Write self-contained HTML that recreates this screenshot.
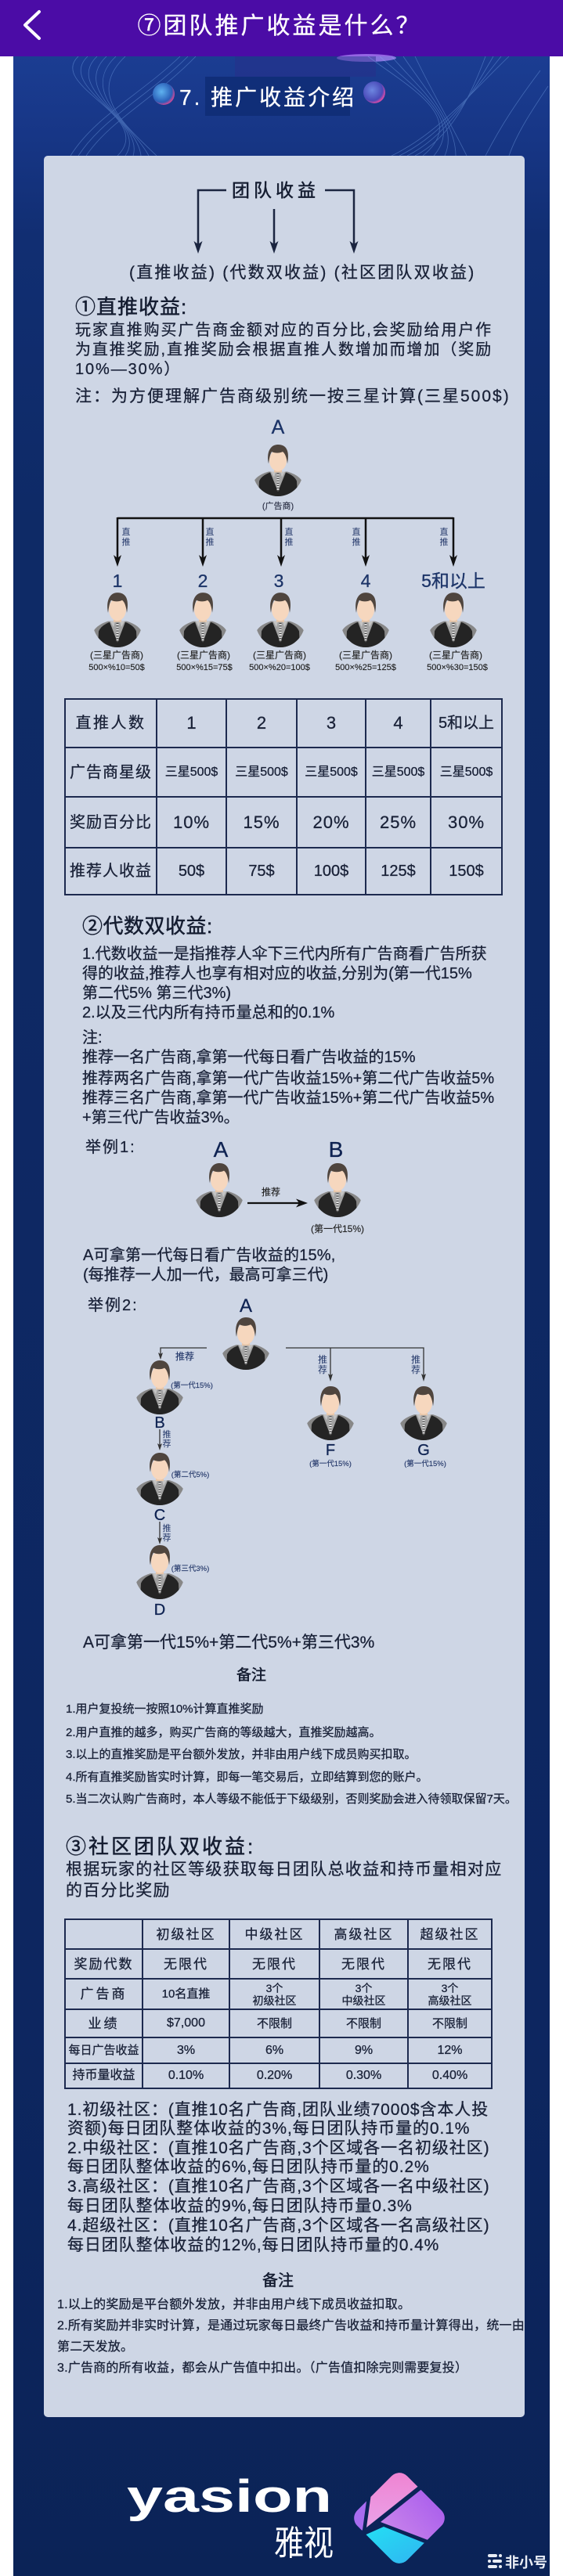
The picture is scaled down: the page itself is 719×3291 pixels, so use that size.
<!DOCTYPE html>
<html><head><meta charset="utf-8">
<style>
html,body{margin:0;padding:0;background:#fff;}
#w{position:relative;width:719px;height:3291px;overflow:hidden;background:#fff;font-family:"Liberation Sans","Noto Sans CJK SC",sans-serif;}
.t{position:absolute;white-space:nowrap;line-height:1;color:#1a2238;-webkit-text-stroke:0.3px currentColor;}
.sm{-webkit-text-stroke:0.15px currentColor;}
.h{color:#141c30;-webkit-text-stroke:0.5px currentColor;}
.c{transform:translateX(-50%);}
.n{color:#1c3468;}
.v{position:absolute;line-height:13px;font-size:11px;color:#24386a;text-align:center;transform:translateX(-50%);}
table.tb{position:absolute;border-collapse:collapse;table-layout:fixed;}
table.tb td{border:2px solid #1d2a4f;text-align:center;vertical-align:middle;padding:0;color:#1a2238;line-height:1;white-space:nowrap;-webkit-text-stroke:0.3px currentColor;}
</style></head><body><div id="w">

<!-- backgrounds -->
<div style="position:absolute;left:0;top:0;width:719px;height:72px;background:#4b0ca6"></div>
<div style="position:absolute;left:17px;top:72px;width:685px;height:3219px;background:linear-gradient(180deg,#1b3d92 0px,#173686 100px,#112e72 230px,#0e2a66 600px,#0d2660 2500px,#0b2357 3219px)"></div>

<svg style="position:absolute;left:0;top:0" width="719" height="3291" viewBox="0 0 719 3291">
<defs>
 <clipPath id="bc"><circle cx="32" cy="34" r="32"/></clipPath>
 <symbol id="av" viewBox="0 0 64 66" preserveAspectRatio="none">
  <g clip-path="url(#bc)">
   <path d="M0,66 L0,50 Q3,40 20,35 L44,35 Q61,40 64,50 L64,66 Z" fill="#878787"/>
   <path d="M7,66 L8,47 Q11,40 22,36 L32,60 L42,36 Q53,40 56,47 L57,66 Z" fill="#242424"/>
   <path d="M22,35 L42,35 L32,60 Z" fill="#a3a3a3"/>
   <path d="M23,35 L29,35 L27,42 Z M41,35 L35,35 L37,42 Z" fill="#c4c4c4"/>
   <rect x="30.5" y="37" width="3" height="22" fill="#e2e2e2"/>
   <line x1="32" y1="37" x2="32" y2="59" stroke="#444" stroke-width="3" stroke-dasharray="1.2 1.8"/>
  </g>
  <rect x="27" y="28" width="10" height="8" fill="#e7c6a9"/>
  <ellipse cx="32" cy="21" rx="11" ry="13.5" fill="#f6d7be"/>
  <path d="M20,25 C17,11 22,1 32,1 C43,1 47,9 44,25 C43,17 41,12 38,10 C34,12 28,12 24,10 C22,13 21,18 20,25 Z" fill="#4f453e"/>
 </symbol>
 <radialGradient id="sp1" cx="0.4" cy="0.4" r="0.6"><stop offset="0" stop-color="#5fb2f0"/><stop offset="0.8" stop-color="#2a5fb8"/><stop offset="1" stop-color="#c04a9a"/></radialGradient>
 <radialGradient id="sp2" cx="0.4" cy="0.4" r="0.6"><stop offset="0" stop-color="#6d86e0"/><stop offset="0.8" stop-color="#4a4ab8"/><stop offset="1" stop-color="#d04aa8"/></radialGradient>
 <linearGradient id="gp" x1="0" y1="0" x2="0" y2="1"><stop offset="0" stop-color="#f56ac0"/><stop offset="1" stop-color="#e9a2e8"/></linearGradient>
 <linearGradient id="gu" x1="1" y1="0" x2="0" y2="1"><stop offset="0" stop-color="#8432ee"/><stop offset="1" stop-color="#d592ea"/></linearGradient>
 <linearGradient id="gc" x1="0" y1="0" x2="1" y2="1"><stop offset="0" stop-color="#22e6f4"/><stop offset="1" stop-color="#3d86ee"/></linearGradient>
 <clipPath id="dm"><rect x="465" y="3172" width="90" height="90" rx="14" transform="rotate(45 510 3217)"/></clipPath>
</defs>

<!-- header chevron -->
<polyline points="50,15 32,32 50,49" fill="none" stroke="#fff" stroke-width="4" stroke-linecap="round" stroke-linejoin="round"/>

<!-- banner decoration -->
<ellipse cx="468" cy="74" rx="38" ry="5" fill="#b58cff" opacity="0.7"/>
<rect x="300" y="72" width="180" height="26" fill="#2b2d8a" opacity="0.45"/>
<rect x="262" y="98" width="185" height="50" fill="#0e2b72" opacity="0.75"/>
<g fill="none" stroke="#8fc0ff" stroke-width="0.8" opacity="0.35">
 <path d="M100,72 C60,110 200,150 150,199"/>
 <path d="M112,72 C70,112 192,152 160,199"/>
 <path d="M124,72 C80,114 184,154 170,199"/>
 <path d="M136,72 C90,116 176,156 180,199"/>
 <path d="M148,72 C100,118 168,158 190,199"/>
 <path d="M160,72 C110,120 160,160 200,199"/>
 <path d="M230,72 C180,120 120,150 90,199"/>
 <path d="M240,72 C190,122 130,152 100,199"/>
 <path d="M250,72 C200,124 140,154 110,199"/>
 <path d="M470,72 C520,110 600,150 540,199"/>
 <path d="M485,72 C528,112 594,152 554,199"/>
 <path d="M500,72 C536,114 588,154 568,199"/>
 <path d="M515,72 C544,116 582,156 582,199"/>
 <path d="M530,72 C552,118 576,158 596,199"/>
 <path d="M650,72 C600,120 560,170 500,199"/>
 <path d="M640,72 C600,122 565,172 510,199"/>
 <path d="M630,72 C600,124 570,174 520,199"/>
 <path d="M620,72 C600,126 575,176 530,199"/>
 <path d="M690,90 C660,130 640,160 620,199"/>
 <path d="M700,110 C680,140 660,170 650,199"/>
</g>
<circle cx="209" cy="120" r="14" fill="url(#sp1)"/>
<circle cx="478" cy="118" r="14" fill="url(#sp2)"/>

<!-- panel -->
<rect x="56" y="199" width="614" height="2889" rx="5" fill="#ced6e5"/>

<!-- intro bracket -->
<g stroke="#1b2540" stroke-width="2.5" fill="none">
 <path d="M289,243 H253 V312"/>
 <path d="M350,267 V312"/>
 <path d="M415,243 H452 V312"/>
</g>
<g fill="#1b2540">
 <polygon points="253,324 247.5,308 253,312 258.5,308"/>
 <polygon points="350,324 344.5,308 350,312 355.5,308"/>
 <polygon points="452,324 446.5,308 452,312 457.5,308"/>
</g>

<!-- tree 1 -->
<g stroke="#111" stroke-width="2.5" fill="none">
 <path d="M150,662 H579"/>
 <path d="M150,661 V713 M259,662 V713 M359,662 V713 M467,662 V713 M579,661 V713"/>
</g>
<g fill="#111">
 <polygon points="150,724 145,709 150,713 155,709"/>
 <polygon points="259,724 254,709 259,713 264,709"/>
 <polygon points="359,724 354,709 359,713 364,709"/>
 <polygon points="467,724 462,709 467,713 472,709"/>
 <polygon points="579,724 574,709 579,713 584,709"/>
</g>
<use href="#av" x="323" y="567" width="64" height="67"/>
<use href="#av" x="118" y="756" width="64" height="71"/>
<use href="#av" x="227" y="756" width="64" height="71"/>
<use href="#av" x="326" y="756" width="64" height="71"/>
<use href="#av" x="435" y="756" width="64" height="71"/>
<use href="#av" x="547" y="756" width="64" height="71"/>

<!-- example 1 -->
<use href="#av" x="248" y="1485" width="64" height="70"/>
<use href="#av" x="399" y="1485" width="64" height="70"/>
<path d="M316,1537 H382" stroke="#111" stroke-width="2.2"/>
<polygon points="393,1537 378,1531.5 382,1537 378,1542.5" fill="#111"/>

<!-- example 2 -->
<g stroke="#333" stroke-width="1.3" fill="none">
 <path d="M264,1722 H205 V1730"/>
 <path d="M365,1722 H541 V1757"/>
 <path d="M422,1722 V1757"/>
 <path d="M204,1826 V1846"/>
 <path d="M204,1944 V1966"/>
</g>
<g fill="#333">
 <polygon points="205,1737 202,1728 205,1730 208,1728"/>
 <polygon points="422,1765 419,1755 422,1757 425,1755"/>
 <polygon points="541,1765 538,1755 541,1757 544,1755"/>
 <polygon points="204,1853 201,1844 204,1846 207,1844"/>
 <polygon points="204,1973 201,1964 204,1966 207,1964"/>
</g>
<use href="#av" x="282" y="1682" width="64" height="68"/>
<use href="#av" x="172" y="1737" width="64" height="70"/>
<use href="#av" x="172" y="1855" width="64" height="68"/>
<use href="#av" x="172" y="1973" width="64" height="70"/>
<use href="#av" x="390" y="1770" width="64" height="70"/>
<use href="#av" x="509" y="1770" width="64" height="70"/>

<!-- logo -->
<g clip-path="url(#dm)">
 <polygon points="474,3186 474,3100 620,3100 620,3108 468,3229" fill="url(#gp)"/>
 <polygon points="400,3150 469,3188 463,3232 400,3300" fill="#a86cf0"/>
 <polygon points="620,3115 486,3222 620,3273" fill="url(#gu)"/>
 <polygon points="440,3245 463,3240 490,3228 620,3280 620,3330 440,3330" fill="url(#gc)"/>
</g>
<text x="162" y="3209" font-family="Liberation Sans, sans-serif" font-weight="bold" font-size="58" fill="#fff" textLength="262" lengthAdjust="spacingAndGlyphs">yasion</text>
<text x="350" y="3264" font-family="Liberation Sans, Noto Sans CJK SC, sans-serif" font-size="44" fill="#fff" textLength="76" lengthAdjust="spacingAndGlyphs">雅视</text>
<g fill="#e8ecf4">
 <rect x="623" y="3263" width="12" height="4" rx="2"/><rect x="637" y="3263" width="4" height="4" rx="2"/>
 <rect x="623" y="3270" width="4" height="4" rx="2"/><rect x="629" y="3270" width="12" height="4" rx="2"/>
 <rect x="623" y="3277" width="12" height="4" rx="2"/><rect x="637" y="3277" width="4" height="4" rx="2"/>
</g>
<text x="645" y="3280" font-family="Liberation Sans, Noto Sans CJK SC, sans-serif" font-weight="bold" font-size="18" fill="#e8ecf4">非小号</text>
</svg>

<!-- header title -->
<div class="t c" style="left:357px;top:19px;font-size:30px;letter-spacing:3px;color:#fff">⑦团队推广收益是什么？</div>
<div class="t" style="left:229px;top:111px;font-size:28px;letter-spacing:3px;color:#fff">7. 推广收益介绍</div>

<!-- intro -->
<div class="t h" style="left:296px;top:232px;font-size:23px;letter-spacing:5px">团队收益</div>
<div class="t" style="left:165px;top:338px;font-size:21px;letter-spacing:2.2px">(直推收益) (代数双收益) (社区团队双收益)</div>

<!-- section 1 -->
<div class="t h" style="left:96px;top:379px;font-size:26px;letter-spacing:1px">①直推收益:</div>
<div class="t" style="left:96px;top:412px;font-size:20px;letter-spacing:1.9px">玩家直推购买广告商金额对应的百分比,会奖励给用户作</div>
<div class="t" style="left:96px;top:437px;font-size:20px;letter-spacing:1.9px">为直推奖励,直推奖励会根据直推人数增加而增加（奖励</div>
<div class="t" style="left:96px;top:462px;font-size:20px;letter-spacing:1.9px">10%—30%）</div>
<div class="t" style="left:96px;top:496px;font-size:21px;letter-spacing:2px">注：为方便理解广告商级别统一按三星计算(三星500$)</div>

<div class="t c n" style="left:355px;top:534px;font-size:25px">A</div>
<div class="t c sm" style="left:355px;top:642px;font-size:11px;color:#2a2f45">(广告商)</div>
<div class="v" style="left:161px;top:674px">直<br>推</div>
<div class="v" style="left:268px;top:674px">直<br>推</div>
<div class="v" style="left:369px;top:674px">直<br>推</div>
<div class="v" style="left:455px;top:674px">直<br>推</div>
<div class="v" style="left:567px;top:674px">直<br>推</div>
<div class="t c n" style="left:150px;top:731px;font-size:23px">1</div>
<div class="t c n" style="left:259px;top:731px;font-size:23px">2</div>
<div class="t c n" style="left:356px;top:731px;font-size:23px">3</div>
<div class="t c n" style="left:467px;top:731px;font-size:23px">4</div>
<div class="t c n" style="left:579px;top:731px;font-size:23px">5和以上</div>
<div class="t c sm" style="left:149px;top:831px;font-size:12px;color:#222">(三星广告商)</div>
<div class="t c sm" style="left:260px;top:831px;font-size:12px;color:#222">(三星广告商)</div>
<div class="t c sm" style="left:357px;top:831px;font-size:12px;color:#222">(三星广告商)</div>
<div class="t c sm" style="left:467px;top:831px;font-size:12px;color:#222">(三星广告商)</div>
<div class="t c sm" style="left:582px;top:831px;font-size:12px;color:#222">(三星广告商)</div>
<div class="t c sm" style="left:149px;top:848px;font-size:11px;color:#222">500×%10=50$</div>
<div class="t c sm" style="left:261px;top:848px;font-size:11px;color:#222">500×%15=75$</div>
<div class="t c sm" style="left:357px;top:848px;font-size:11px;color:#222">500×%20=100$</div>
<div class="t c sm" style="left:467px;top:848px;font-size:11px;color:#222">500×%25=125$</div>
<div class="t c sm" style="left:584px;top:848px;font-size:11px;color:#222">500×%30=150$</div>

<table class="tb" style="left:82px;top:892px;width:558px;height:252px">
<colgroup><col style="width:117px"><col style="width:89px"><col style="width:90px"><col style="width:88px"><col style="width:83px"><col style="width:91px"></colgroup>
<tr style="height:62px"><td style="font-size:20px;letter-spacing:2.5px">直推人数</td><td style="font-size:22px">1</td><td style="font-size:22px">2</td><td style="font-size:22px">3</td><td style="font-size:22px">4</td><td style="font-size:20px">5和以上</td></tr>
<tr style="height:63px"><td style="font-size:20px;letter-spacing:1px">广告商星级</td><td style="font-size:16px">三星500$</td><td style="font-size:16px">三星500$</td><td style="font-size:16px">三星500$</td><td style="font-size:16px">三星500$</td><td style="font-size:16px">三星500$</td></tr>
<tr style="height:65px"><td style="font-size:20px;letter-spacing:1px">奖励百分比</td><td style="font-size:22px;letter-spacing:1px">10%</td><td style="font-size:22px;letter-spacing:1px">15%</td><td style="font-size:22px;letter-spacing:1px">20%</td><td style="font-size:22px;letter-spacing:1px">25%</td><td style="font-size:22px;letter-spacing:1px">30%</td></tr>
<tr style="height:60px"><td style="font-size:20px;letter-spacing:1px">推荐人收益</td><td style="font-size:20px">50$</td><td style="font-size:20px">75$</td><td style="font-size:20px">100$</td><td style="font-size:20px">125$</td><td style="font-size:20px">150$</td></tr>
</table>

<!-- section 2 -->
<div class="t h" style="left:105px;top:1170px;font-size:26px;letter-spacing:0.5px">②代数双收益:</div>
<div class="t" style="left:105px;top:1209px;font-size:20px">1.代数收益一是指推荐人伞下三代内所有广告商看广告所获</div>
<div class="t" style="left:105px;top:1234px;font-size:20px">得的收益,推荐人也享有相对应的收益,分别为(第一代15%</div>
<div class="t" style="left:105px;top:1259px;font-size:20px">第二代5% 第三代3%)</div>
<div class="t" style="left:105px;top:1284px;font-size:20px">2.以及三代内所有持币量总和的0.1%</div>
<div class="t" style="left:105px;top:1316px;font-size:20px">注:</div>
<div class="t" style="left:105px;top:1341px;font-size:20px">推荐一名广告商,拿第一代每日看广告收益的15%</div>
<div class="t" style="left:105px;top:1368px;font-size:20px">推荐两名广告商,拿第一代广告收益15%+第二代广告收益5%</div>
<div class="t" style="left:105px;top:1393px;font-size:20px">推荐三名广告商,拿第一代广告收益15%+第二代广告收益5%</div>
<div class="t" style="left:105px;top:1418px;font-size:20px">+第三代广告收益3%。</div>

<div class="t" style="left:109px;top:1456px;font-size:20px;letter-spacing:2px">举例1:</div>
<div class="t c" style="left:282px;top:1455px;font-size:28px;color:#0f2352">A</div>
<div class="t c" style="left:429px;top:1455px;font-size:28px;color:#0f2352">B</div>
<div class="t c sm" style="left:346px;top:1517px;font-size:12px;color:#222">推荐</div>
<div class="t c sm" style="left:431px;top:1564px;font-size:12px;color:#222">(第一代15%)</div>
<div class="t" style="left:106px;top:1594px;font-size:20px;letter-spacing:0.2px">A可拿第一代每日看广告收益的15%,</div>
<div class="t" style="left:106px;top:1619px;font-size:20px">(每推荐一人加一代，最高可拿三代)</div>

<div class="t" style="left:112px;top:1658px;font-size:20px;letter-spacing:2px">举例2:</div>
<div class="t c" style="left:314px;top:1657px;font-size:24px;color:#0f2352">A</div>
<div class="t c sm" style="left:236px;top:1727px;font-size:12px;color:#24386a">推荐</div>
<div class="v" style="left:412px;top:1731px;font-size:12px;line-height:13px">推<br>荐</div>
<div class="v" style="left:531px;top:1731px;font-size:12px;line-height:13px">推<br>荐</div>
<div class="t c sm" style="left:245px;top:1766px;font-size:9.5px;color:#24386a">(第一代15%)</div>
<div class="t c" style="left:204px;top:1808px;font-size:20px;color:#0f2352">B</div>
<div class="v" style="left:213px;top:1827px;line-height:12px">推<br>荐</div>
<div class="t c sm" style="left:243px;top:1880px;font-size:9.5px;color:#24386a">(第二代5%)</div>
<div class="t c" style="left:204px;top:1926px;font-size:20px;color:#0f2352">C</div>
<div class="v" style="left:213px;top:1947px;line-height:12px">推<br>荐</div>
<div class="t c sm" style="left:243px;top:2000px;font-size:9.5px;color:#24386a">(第三代3%)</div>
<div class="t c" style="left:204px;top:2047px;font-size:20px;color:#0f2352">D</div>
<div class="t c" style="left:422px;top:1843px;font-size:20px;color:#0f2352">F</div>
<div class="t c" style="left:541px;top:1843px;font-size:20px;color:#0f2352">G</div>
<div class="t c sm" style="left:422px;top:1866px;font-size:9.5px;color:#24386a">(第一代15%)</div>
<div class="t c sm" style="left:543px;top:1866px;font-size:9.5px;color:#24386a">(第一代15%)</div>

<div class="t" style="left:106px;top:2088px;font-size:21px">A可拿第一代15%+第二代5%+第三代3%</div>

<div class="t c h" style="left:321px;top:2131px;font-size:19px">备注</div>
<div class="t" style="left:84px;top:2176px;font-size:15px">1.用户复投统一按照10%计算直推奖励</div>
<div class="t" style="left:84px;top:2206px;font-size:15px">2.用户直推的越多，购买广告商的等级越大，直推奖励越高。</div>
<div class="t" style="left:84px;top:2234px;font-size:15px">3.以上的直推奖励是平台额外发放，并非由用户线下成员购买扣取。</div>
<div class="t" style="left:84px;top:2263px;font-size:15px">4.所有直推奖励皆实时计算，即每一笔交易后，立即结算到您的账户。</div>
<div class="t" style="left:84px;top:2291px;font-size:15px">5.当二次认购广告商时，本人等级不能低于下级级别，否则奖励会进入待领取保留7天。</div>

<!-- section 3 -->
<div class="t h" style="left:84px;top:2346px;font-size:26px;letter-spacing:3px">③社区团队双收益:</div>
<div class="t" style="left:84px;top:2378px;font-size:21px;letter-spacing:1.3px">根据玩家的社区等级获取每日团队总收益和持币量相对应</div>
<div class="t" style="left:84px;top:2405px;font-size:21px;letter-spacing:1.3px">的百分比奖励</div>

<table class="tb" style="left:82px;top:2451px;width:545px;height:218px">
<colgroup><col style="width:99px"><col style="width:111px"><col style="width:115px"><col style="width:113px"><col style="width:107px"></colgroup>
<tr style="height:38px"><td></td><td style="font-size:17px;letter-spacing:2px">初级社区</td><td style="font-size:17px;letter-spacing:2px">中级社区</td><td style="font-size:17px;letter-spacing:2px">高级社区</td><td style="font-size:17px;letter-spacing:2px">超级社区</td></tr>
<tr style="height:38px"><td style="font-size:17px;letter-spacing:2px">奖励代数</td><td style="font-size:17px;letter-spacing:2px">无限代</td><td style="font-size:17px;letter-spacing:2px">无限代</td><td style="font-size:17px;letter-spacing:2px">无限代</td><td style="font-size:17px;letter-spacing:2px">无限代</td></tr>
<tr style="height:39px"><td style="font-size:17px;letter-spacing:3px">广告商</td><td style="font-size:15px">10名直推</td><td style="font-size:14px;line-height:16px">3个<br>初级社区</td><td style="font-size:14px;line-height:16px">3个<br>中级社区</td><td style="font-size:14px;line-height:16px">3个<br>高级社区</td></tr>
<tr style="height:36px"><td style="font-size:17px;letter-spacing:3px">业绩</td><td style="font-size:16px">$7,000</td><td style="font-size:15px">不限制</td><td style="font-size:15px">不限制</td><td style="font-size:15px">不限制</td></tr>
<tr style="height:33px"><td style="font-size:15px">每日广告收益</td><td style="font-size:16px">3%</td><td style="font-size:16px">6%</td><td style="font-size:16px">9%</td><td style="font-size:16px">12%</td></tr>
<tr style="height:32px"><td style="font-size:16px">持币量收益</td><td style="font-size:16px">0.10%</td><td style="font-size:16px">0.20%</td><td style="font-size:16px">0.30%</td><td style="font-size:16px">0.40%</td></tr>
</table>

<div class="t" style="left:86px;top:2685px;font-size:21px;letter-spacing:0.9px">1.初级社区：(直推10名广告商,团队业绩7000$含本人投</div>
<div class="t" style="left:86px;top:2709px;font-size:21px;letter-spacing:0.9px">资额)每日团队整体收益的3%,每日团队持币量的0.1%</div>
<div class="t" style="left:86px;top:2734px;font-size:21px;letter-spacing:0.9px">2.中级社区：(直推10名广告商,3个区域各一名初级社区)</div>
<div class="t" style="left:86px;top:2758px;font-size:21px;letter-spacing:0.9px">每日团队整体收益的6%,每日团队持币量的0.2%</div>
<div class="t" style="left:86px;top:2783px;font-size:21px;letter-spacing:0.9px">3.高级社区：(直推10名广告商,3个区域各一名中级社区)</div>
<div class="t" style="left:86px;top:2808px;font-size:21px;letter-spacing:0.9px">每日团队整体收益的9%,每日团队持币量0.3%</div>
<div class="t" style="left:86px;top:2833px;font-size:21px;letter-spacing:0.9px">4.超级社区：(直推10名广告商,3个区域各一名高级社区)</div>
<div class="t" style="left:86px;top:2858px;font-size:21px;letter-spacing:0.9px">每日团队整体收益的12%,每日团队持币量的0.4%</div>

<div class="t c h" style="left:355px;top:2904px;font-size:20px">备注</div>
<div class="t" style="left:73px;top:2937px;font-size:16px;letter-spacing:0.2px">1.以上的奖励是平台额外发放，并非由用户线下成员收益扣取。</div>
<div class="t" style="left:73px;top:2964px;font-size:16px;letter-spacing:0.2px">2.所有奖励并非实时计算，是通过玩家每日最终广告收益和持币量计算得出，统一由</div>
<div class="t" style="left:73px;top:2991px;font-size:16px;letter-spacing:0.2px">第二天发放。</div>
<div class="t" style="left:73px;top:3018px;font-size:16px;letter-spacing:0.2px">3.广告商的所有收益，都会从广告值中扣出。（广告值扣除完则需要复投）</div>

</div></body></html>
